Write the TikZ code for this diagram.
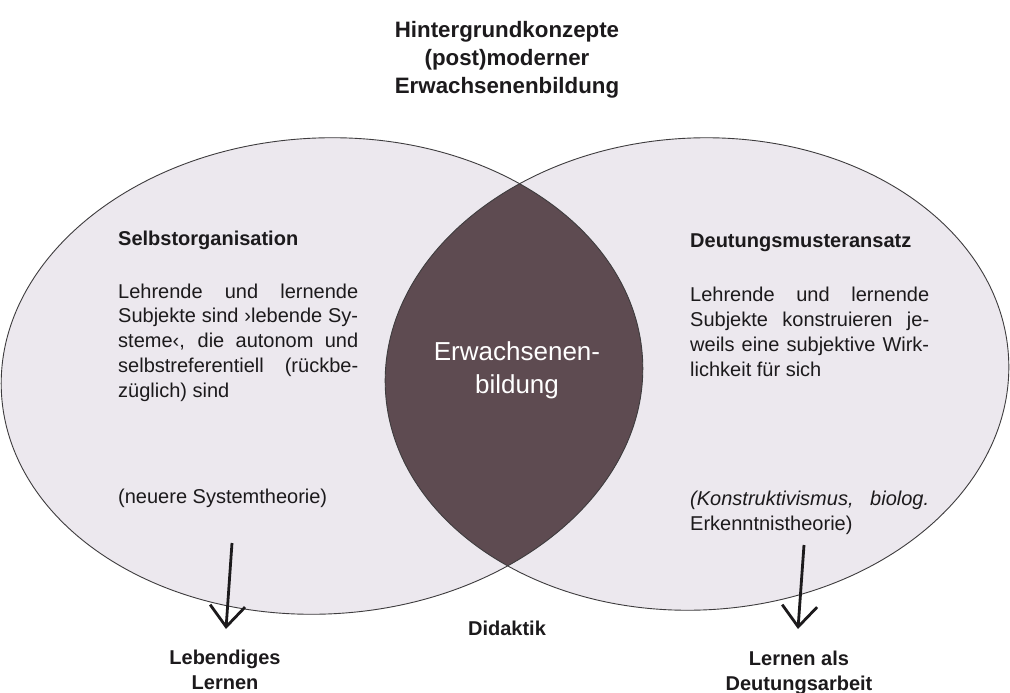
\documentclass[tikz,border=0pt]{standalone}
\usepackage{fontspec}
\setmainfont{Liberation Sans}
\usetikzlibrary{arrows.meta}
\definecolor{venn}{RGB}{236,232,238}
\definecolor{lens}{RGB}{94,75,81}
\definecolor{ink}{RGB}{28,26,28}
\begin{document}
\begin{tikzpicture}[x=1pt,y=-1pt,
  title/.style={font=\fontsize{22.3}{28}\selectfont\bfseries, align=center, inner sep=0pt, text=ink},
  head/.style={font=\fontsize{20}{24.7}\selectfont\bfseries, inner sep=0pt, text=ink},
  body/.style={font=\fontsize{20}{24.7}\selectfont, align=left, inner sep=0pt, text=ink},
  lenstext/.style={font=\fontsize{26}{33}\selectfont, align=center, inner sep=0pt, text=white},
  outline/.style={draw=ink!85, line width=0.9pt},
  arr/.style={draw=ink, line width=2.8pt, -{Straight Barb[length=21pt,width=35pt]}},
  lell/.style={rotate around={3:(322,376)}},
  rell/.style={rotate around={3:(697,374)}}
]
\useasboundingbox (0,0) rectangle (1010,693);
\fill[white] (0,0) rectangle (1010,693);
% ellipses
\fill[venn, lell] (322,376) ellipse [x radius=321pt, y radius=238pt];
\fill[venn, rell] (697,374) ellipse [x radius=312pt, y radius=236pt];
\begin{scope}
  \clip[lell] (322,376) ellipse [x radius=321pt, y radius=238pt];
  \fill[lens, rell] (697,374) ellipse [x radius=312pt, y radius=236pt];
\end{scope}
\draw[outline, lell] (322,376) ellipse [x radius=321pt, y radius=238pt];
\draw[outline, rell] (697,374) ellipse [x radius=312pt, y radius=236pt];
% title (base anchor = baseline of last line)
\node[title, anchor=base] (title) at (507,93) {Hintergrundkonzepte\\(post)moderner\\Erwachsenenbildung};
% left
\node[head, anchor=base west] (lhead) at (118,245) {Selbstorganisation};
\node[body, anchor=base west] (lbody) at (118,397) {%
\hbox to 240pt{Lehrende und lernende}\\
\hbox to 240pt{Subjekte sind ›lebende Sy-}\\
\hbox to 240pt{steme‹, die autonom und}\\
\hbox to 240pt{selbstreferentiell (rückbe-}\\
züglich) sind};
\node[body, anchor=base west] (lsrc) at (118,503) {(neuere Systemtheorie)};
% right
\node[head, anchor=base west] (rhead) at (690,247) {Deutungsmusteransatz};
\node[body, anchor=base west] (rbody) at (690,376) {%
\hbox to 239pt{Lehrende und lernende}\\
\hbox to 239pt{Subjekte konstruieren je-}\\
\hbox to 239pt{weils eine subjektive Wirk-}\\
lichkeit für sich};
\node[body, anchor=base west] (rsrc) at (690,530) {%
\hbox to 239pt{\itshape (Konstruktivismus, biolog.}\\
Erkenntnistheorie)};
% center
\node[lenstext, anchor=base] (center) at (517,393) {Erwachsenen-\\bildung};
% bottom
\node[head, anchor=base] (didaktik) at (507,635) {Didaktik};
\node[head, anchor=base, align=center] (lebendig) at (225,689) {Lebendiges\\Lernen};
\node[head, anchor=base, align=center] (deutung) at (799,690) {Lernen als\\Deutungsarbeit};
% arrows
\coordinate (arrLs) at (232,543);
\coordinate (arrLe) at (226,629);
\coordinate (arrRs) at (804,545);
\coordinate (arrRe) at (798,629);
\draw[arr] (arrLs) -- (arrLe);
\draw[arr] (arrRs) -- (arrRe);
\end{tikzpicture}
\end{document}
